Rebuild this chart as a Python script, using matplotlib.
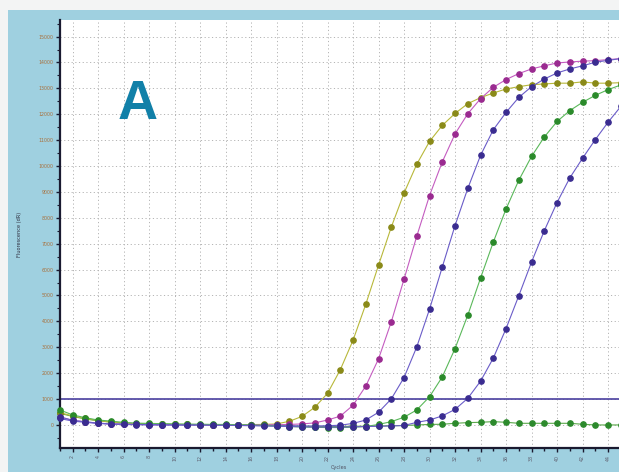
import matplotlib
matplotlib.use("Agg")
import matplotlib.pyplot as plt
from matplotlib.patches import Rectangle
from matplotlib.ticker import MultipleLocator

cycles = list(range(1, 46))

olive = [480, 350, 250, 170, 110, 70, 50, 40, 30, 20, 20, 15, 10, 10, 10, 15, 20, 40, 140, 330,
         680, 1220, 2130, 3270, 4660, 6170, 7640, 8955, 10070, 10950, 11570, 12030, 12410, 12640, 12820,
         12975, 13065, 13140, 13170, 13200, 13200, 13250, 13200, 13200, 13220]
magenta = [300, 180, 120, 70, 40, 30, 20, 15, 10, 10, 5, 5, 0, 0, 0, 0, 0, 10, 20, 40,
           80, 190, 340, 760, 1500, 2550, 3980, 5630, 7290, 8860, 10160, 11240, 12020, 12600, 13040,
           13340, 13570, 13750, 13870, 13980, 14020, 14050, 14070, 14110, 14150]
blue1 = [250, 150, 100, 60, 30, 20, 10, 5, 0, 0, 0, 0, 0, 0, -10, -10, -20, -20, -30, -40,
         -40, -30, -10, 60, 190, 490, 1005, 1830, 3015, 4470, 6100, 7700, 9135, 10410, 11400,
         12070, 12650, 13065, 13360, 13594, 13750, 13870, 14010, 14080, 14150]
green = [580, 390, 280, 190, 150, 100, 70, 60, 50, 40, 30, 30, 20, 20, 10, 0, -20, -40, -60, -80,
         -90, -100, -100, -90, -60, 20, 128, 298, 580, 1090, 1855, 2950, 4240, 5670, 7060,
         8340, 9450, 10370, 11120, 11720, 12140, 12460, 12730, 12950, 13130]
blue2 = [320, 180, 120, 70, 40, 30, 20, 10, 5, 0, 0, 0, -10, -10, -20, -30, -40, -50, -60, -70,
         -80, -80, -80, -70, -60, -50, -40, -20, 100, 190, 350, 600, 1030, 1690, 2580,
         3720, 4990, 6290, 7500, 8590, 9540, 10300, 11020, 11690, 12300]
ntc = [450, 330, 230, 160, 110, 70, 50, 40, 30, 20, 20, 10, 10, 0, 0, -10, -20, -30, -40, -50,
       -60, -60, -60, -50, -50, -40, -30, -20, 0, 20, 27, 64, 90, 103, 128,
       103, 64, 64, 64, 64, 64, 27, 0, 0, 0]
threshold = 1000

series = [
    (ntc, "#5aa84a", "#2c8a2c"),
    (olive, "#b8b83a", "#8a8a18"),
    (magenta, "#c45cc0", "#9a2a90"),
    (blue1, "#6a5cc8", "#3a2c90"),
    (green, "#5ab85a", "#2a8a2a"),
    (blue2, "#6a5cc8", "#3a2c90"),
]

W, H = 619, 472
fig = plt.figure(figsize=(W / 100, H / 100), dpi=100)
fig.patch.set_facecolor("#f3f4f4")
bg = Rectangle((8 / W, 0), 1, (H - 10) / H, transform=fig.transFigure,
               facecolor="#9fd0e0", edgecolor="none", zorder=-10)
fig.add_artist(bg)

ax = fig.add_axes([59.5 / W, (H - 448) / H, (W - 59.5) / W, (448 - 20) / H])
ax.set_zorder(1)
ax.set_facecolor("white")

for vals, lc, mc in series:
    ax.plot(cycles, vals, color=lc, lw=0.8, marker="o", markersize=3.8,
            markerfacecolor=mc, markeredgecolor=mc, clip_on=False, zorder=3)

ax.axhline(threshold, color="#4a40a0", lw=1.2, zorder=2)

ax.set_xlim(0.98, 44.86)
ax.set_ylim(-890, 15640)
ax.xaxis.set_major_locator(MultipleLocator(2))
ax.xaxis.set_minor_locator(MultipleLocator(1))
ax.yaxis.set_major_locator(MultipleLocator(1000))
ax.yaxis.set_minor_locator(MultipleLocator(500))

ax.grid(True, which="major", color="#b4b4b4", linestyle=(0, (1.2, 2.6)), lw=0.7)
for s in ["top", "right"]:
    ax.spines[s].set_visible(False)
for s in ["left", "bottom"]:
    ax.spines[s].set_color("#1a1a30")
    ax.spines[s].set_linewidth(1.6)

ax.tick_params(axis="y", which="major", length=3, width=1, color="#1a1a30",
               labelsize=3.4, labelcolor="#a8703c", pad=1)
ax.tick_params(axis="y", which="minor", length=2, width=0.8, color="#1a1a30")
ax.tick_params(axis="x", which="major", length=3, width=1, color="#1a1a30",
               labelsize=3.4, labelcolor="#606070", pad=2, labelrotation=90)
ax.tick_params(axis="x", which="minor", length=2.5, width=1, color="#1a1a30")

ax.set_xlabel("Cycles", fontsize=3.6, color="#505060", labelpad=3)
ax.set_ylabel("Fluorescence (dR)", fontsize=3.6, color="#303040", labelpad=12)

ax.text(138 / (W - 59.5) - 59.5 / (W - 59.5), (448 - 105) / 428, "A", transform=ax.transAxes,
        fontsize=40, fontweight="bold", color="#1180a8",
        family="Liberation Sans", ha="center", va="center", zorder=5)

fig.savefig("out.png", dpi=100, facecolor=fig.get_facecolor())
